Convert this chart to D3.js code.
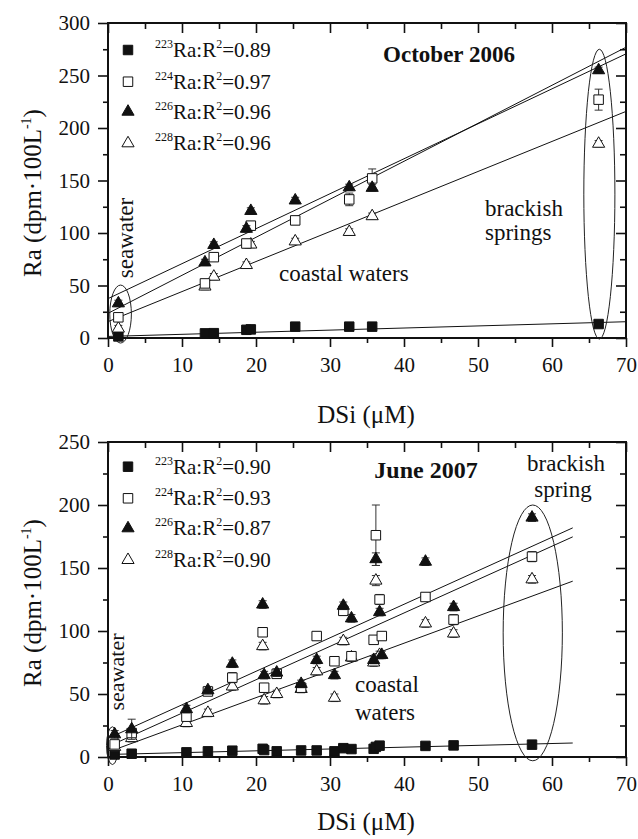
<!DOCTYPE html>
<html>
<head>
<meta charset="utf-8">
<script src="https://cdn.jsdelivr.net/npm/d3@7"></script>
<style>
  body { margin: 0; background: #fff; }
  svg { display: block; }
  text { font-family: "Liberation Serif", "Times New Roman", "DejaVu Serif", serif; fill: #111; }
</style>
</head>
<body>
<svg id="chart" width="638" height="839"></svg>
<script>
// ---- October 2006 survey ----
const octDSi    = [1.4, 13.1, 14.3, 18.7, 19.3, 25.3, 32.6, 35.7, 66.3];
const octRa223  = [1.5, 4.4, 4.6, 7.8, 8.2, 10.8, 10.8, 10.8, 13.3];
const octRa224  = [19.7, 52, 77, 90, 107, 112, 132, 152, 227];
const octRa226  = [33, 72, 88.6, 104, 121, 131, 143.5, 143, 255];
const octRa228  = [9, 49, 58.4, 69.5, 89, 92, 101, 116, 185];
const octErr223 = [0, 0, 0, 0, 0, 0, 0, 0, 0];
const octErr224 = [3, 3, 3, 4, 4, 4, 6, 9, 10];
const octErr226 = [3, 3, 3, 3, 3, 3, 3, 3, 3];
const octErr228 = [3, 3, 3, 3, 3, 3, 3, 3, 3];
// fitted lines: [intercept, slope] for 223, 224, 226, 228
const octFitIntercept = [1.5, 23.5, 37.5, 15.6];
const octFitSlope     = [0.2, 3.62, 3.33, 2.86];
const octFitRange     = [0, 70];
const octR2           = ["0.89", "0.97", "0.96", "0.96"];

// ---- June 2007 survey ----
const junDSi    = [0.9, 3.2, 10.6, 13.5, 16.8, 20.9, 21.1, 22.8, 26.1, 28.2, 30.6, 31.8, 32.9, 35.9, 36.2, 36.7, 37.0, 42.9, 46.7, 57.3];
const junRa223  = [2, 2.6, 3.7, 4.5, 5, 6.5, 5.5, 4.5, 5.2, 5.2, 4.5, 7, 6.3, 6.5, 8, 9, null, 8.8, 9.2, 9.8];
const junRa224  = [10, 19, 32, 52, 63, 99, 55, 66, 55, 96, 76, 116, 80, 93, 176, 125, 96, 127, 109, 159];
const junRa226  = [18, 22, 38, 53, 74, 121, 65, 67, 58, 77, 65, 120, 110, 77, 157, 115, 81, 155, 119, 190];
const junRa228  = [8, 15, 27, 35, 56, 88, 45, 50, 54, 68, 47, 92, 79, 75, 140, 81, null, 106, 98, 141];
const junErr223 = [0, 0, 0, 0, 0, 0, 0, 0, 0, 0, 0, 0, 0, 0, 0, 0, 0, 0, 0, 0];
const junErr224 = [3, 3, 3, 3, 4, 3, 3, 3, 3, 3, 3, 3, 3, 3, 24, 4, 3, 3, 4, 4];
const junErr226 = [3, 8, 3, 3, 3, 3, 3, 3, 3, 3, 3, 3, 3, 3, 5, 3, 3, 3, 3, 3];
const junErr228 = [3, 3, 3, 3, 3, 3, 3, 3, 3, 3, 3, 3, 3, 3, 4, 3, 3, 3, 3, 3];
const junFitIntercept = [2, 8.3, 14.8, 3.9];
const junFitSlope     = [0.145, 2.65, 2.66, 2.16];
const junFitRange     = [0.9, 62.8];
const junR2           = ["0.90", "0.93", "0.87", "0.90"];

const isotopes   = ["223", "224", "226", "228"];
const xTicks     = [0, 10, 20, 30, 40, 50, 60, 70];
const yTicksOct  = [0, 50, 100, 150, 200, 250, 300];
const yTicksJun  = [0, 50, 100, 150, 200, 250];

const svg = d3.select("#chart");
const FONT = "Liberation Serif, Times New Roman, DejaVu Serif, serif";

function markerPath(iso) {
  const sq = iso === "223" || iso === "224";
  return d3.symbol().type(sq ? d3.symbolSquare : d3.symbolTriangle).size(sq ? 90 : 64)();
}
function markerFill(iso) {
  return (iso === "223" || iso === "226") ? "#111" : "#fff";
}

function drawPanel(p) {
  const x = d3.scaleLinear().domain([0, 70]).range([108, 626]);
  const y = d3.scaleLinear().domain([0, p.yMax]).range([p.y0, p.y1]);
  const g = svg.append("g");

  const clipId = "clip" + p.id;
  svg.append("clipPath").attr("id", clipId)
    .append("rect").attr("x", 108).attr("y", p.y1).attr("width", 518).attr("height", p.y0 - p.y1);

  // axes: outward ticks left/bottom, inward mirrored ticks top/right
  const minorX = d3.range(5, 70, 10);
  const minorY = d3.range(25, p.yMax, 50);

  g.append("g").attr("transform", `translate(0,${p.y0})`)
    .call(d3.axisBottom(x).tickValues(xTicks).tickSize(9).tickPadding(10).tickFormat(d3.format("d")));
  g.append("g").attr("transform", `translate(0,${p.y0})`)
    .call(d3.axisBottom(x).tickValues(minorX).tickSize(5).tickFormat(""));
  g.append("g").attr("transform", "translate(108,0)")
    .call(d3.axisLeft(y).tickValues(p.yTicks).tickSize(10).tickPadding(8).tickFormat(d3.format("d")));
  g.append("g").attr("transform", "translate(108,0)")
    .call(d3.axisLeft(y).tickValues(minorY).tickSize(5).tickFormat(""));
  g.append("g").attr("transform", `translate(0,${p.y1})`)
    .call(d3.axisTop(x).tickValues(xTicks).tickSize(-10).tickFormat(""));
  g.append("g").attr("transform", `translate(0,${p.y1})`)
    .call(d3.axisTop(x).tickValues(minorX).tickSize(-6).tickFormat(""));
  g.append("g").attr("transform", "translate(626,0)")
    .call(d3.axisRight(y).tickValues(p.yTicks).tickSize(-10).tickFormat(""));
  g.append("g").attr("transform", "translate(626,0)")
    .call(d3.axisRight(y).tickValues(minorY).tickSize(-6).tickFormat(""));

  g.selectAll(".domain").remove();
  g.selectAll(".tick line").attr("stroke", "#111").attr("stroke-width", 1.6);
  g.selectAll(".tick text").attr("font-family", FONT).attr("font-size", 21).attr("fill", "#222");

  g.append("rect").attr("x", 108).attr("y", p.y1).attr("width", 518).attr("height", p.y0 - p.y1)
    .attr("fill", "none").attr("stroke", "#111").attr("stroke-width", 2);

  // regression lines
  const lines = svg.append("g").attr("clip-path", `url(#${clipId})`);
  isotopes.forEach((iso, i) => {
    const a = p.fitIntercept[i], b = p.fitSlope[i];
    lines.append("line")
      .attr("x1", x(p.fitRange[0])).attr("y1", y(a + b * p.fitRange[0]))
      .attr("x2", x(p.fitRange[1])).attr("y2", y(a + b * p.fitRange[1]))
      .attr("stroke", "#111").attr("stroke-width", 1);
  });

  // group outlines
  p.ellipses.forEach(e => {
    svg.append("ellipse")
      .attr("cx", x(e.cx)).attr("cy", y(e.cy))
      .attr("rx", x(e.cx + e.rx) - x(e.cx)).attr("ry", y(0) - y(e.ry))
      .attr("fill", "none").attr("stroke", "#222").attr("stroke-width", 1);
  });

  // points with error bars
  const pts = svg.append("g");
  const order = ["223", "228", "224", "226"];
  order.forEach(iso => {
    const i = isotopes.indexOf(iso);
    const vals = p.values[i], errs = p.errors[i];
    p.dsi.forEach((dx, k) => {
      const v = vals[k];
      if (v == null) return;
      const e = errs[k];
      const cx = x(dx), cy = y(v);
      if (e > 0) {
        const eb = pts.append("g").attr("stroke", "#333").attr("stroke-width", 1);
        eb.append("line").attr("x1", cx).attr("x2", cx).attr("y1", y(v - e)).attr("y2", y(v + e));
        eb.append("line").attr("x1", cx - 4).attr("x2", cx + 4).attr("y1", y(v - e)).attr("y2", y(v - e));
        eb.append("line").attr("x1", cx - 4).attr("x2", cx + 4).attr("y1", y(v + e)).attr("y2", y(v + e));
      }
      pts.append("path").attr("d", markerPath(iso))
        .attr("transform", `translate(${cx},${cy})`)
        .attr("fill", markerFill(iso)).attr("stroke", "#111").attr("stroke-width", 1);
    });
  });

  // legend
  p.legendRows.forEach((ly, i) => {
    const iso = isotopes[i];
    svg.append("path").attr("d", markerPath(iso)).attr("transform", `translate(128,${ly})`)
      .attr("fill", markerFill(iso)).attr("stroke", "#111").attr("stroke-width", 1);
    const t = svg.append("text").attr("x", 155).attr("y", ly + 7).attr("font-size", 21);
    t.append("tspan").attr("font-size", 12).attr("dy", -9).text(iso);
    t.append("tspan").attr("dy", 9).text("Ra:R");
    t.append("tspan").attr("font-size", 12).attr("dy", -9).text("2");
    t.append("tspan").attr("dy", 9).text("=" + p.r2[i]);
  });

  // annotations
  p.labels.forEach(l => {
    const t = svg.append("text").attr("font-size", l.size).attr("font-weight", l.bold ? "bold" : null)
      .attr("text-anchor", l.anchor || "start");
    if (l.rotate) t.attr("transform", `translate(${l.x},${l.y}) rotate(-90)`).attr("text-anchor", "middle");
    else t.attr("x", l.x).attr("y", l.y);
    t.text(l.text);
  });

  // axis titles
  const yt = svg.append("text").attr("transform", `translate(41,${p.yTitleY}) rotate(-90)`)
    .attr("text-anchor", "middle").attr("font-size", 25);
  yt.append("tspan").text("Ra (dpm\u00b7100L");
  yt.append("tspan").attr("font-size", 14).attr("dy", -10).text("-1");
  yt.append("tspan").attr("dy", 10).text(")");

  svg.append("text").attr("x", 366).attr("y", p.xTitleY).attr("text-anchor", "middle")
    .attr("font-size", 25).text("DSi (\u03bcM)");
}

drawPanel({
  id: "oct", yMax: 300, y0: 338, y1: 23, yTicks: yTicksOct,
  dsi: octDSi,
  values: [octRa223, octRa224, octRa226, octRa228],
  errors: [octErr223, octErr224, octErr226, octErr228],
  fitIntercept: octFitIntercept, fitSlope: octFitSlope, fitRange: octFitRange, r2: octR2,
  ellipses: [{cx: 1.7, cy: 22.8, rx: 1.46, ry: 27.6}, {cx: 66.4, cy: 137, rx: 2.1, ry: 138}],
  legendRows: [50, 81.7, 111.7, 143.3],
  labels: [
    {text: "October 2006", x: 449, y: 62, size: 23, bold: true, anchor: "middle"},
    {text: "seawater", x: 133, y: 238, size: 23, rotate: true},
    {text: "coastal waters", x: 279, y: 281, size: 23},
    {text: "brackish", x: 485, y: 216, size: 23},
    {text: "springs", x: 485, y: 240, size: 23}
  ],
  yTitleY: 193, xTitleY: 423
});

drawPanel({
  id: "jun", yMax: 250, y0: 757, y1: 442, yTicks: yTicksJun,
  dsi: junDSi,
  values: [junRa223, junRa224, junRa226, junRa228],
  errors: [junErr223, junErr224, junErr226, junErr228],
  fitIntercept: junFitIntercept, fitSlope: junFitSlope, fitRange: junFitRange, r2: junR2,
  ellipses: [{cx: 0.6, cy: 9, rx: 0.8, ry: 15}, {cx: 57.4, cy: 98.5, rx: 4.0, ry: 101.5}],
  legendRows: [466.7, 498.3, 528.3, 560],
  labels: [
    {text: "June 2007", x: 426, y: 478, size: 24, bold: true, anchor: "middle"},
    {text: "brackish", x: 566, y: 471, size: 23, anchor: "middle"},
    {text: "spring", x: 563, y: 497, size: 23, anchor: "middle"},
    {text: "seawater", x: 124, y: 672, size: 22, rotate: true},
    {text: "coastal", x: 355, y: 692, size: 23},
    {text: "waters", x: 355, y: 720, size: 23}
  ],
  yTitleY: 603, xTitleY: 830
});
</script>
</body>
</html>
